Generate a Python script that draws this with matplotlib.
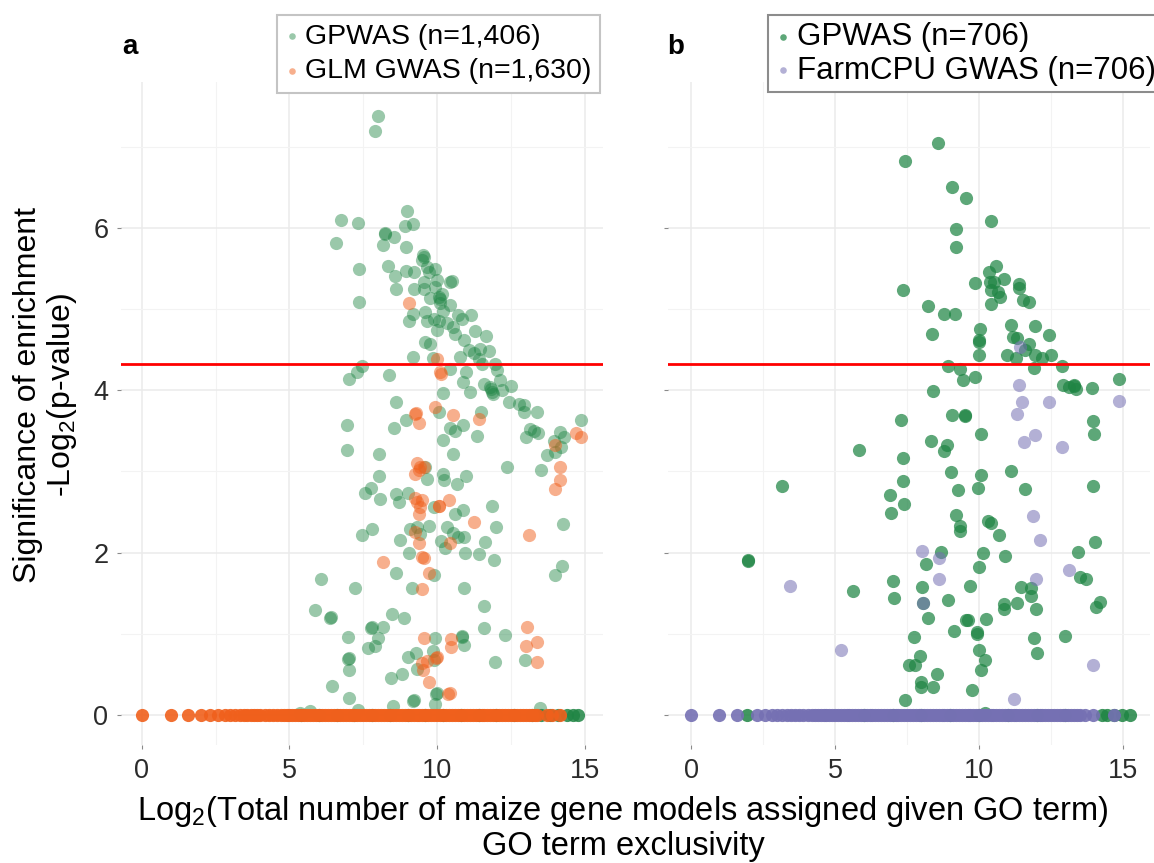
import numpy as np
import matplotlib
matplotlib.use("Agg")
import matplotlib.pyplot as plt

plt.rcParams['font.family'] = ['Liberation Sans', 'DejaVu Sans']
plt.rcParams['mathtext.fontset'] = 'custom'
plt.rcParams['mathtext.rm'] = 'Liberation Sans'
plt.rcParams['mathtext.it'] = 'Liberation Sans:italic'

# significance threshold, -log2(0.05)
threshold = 4.32

# ---- panel a: GPWAS vs GLM GWAS ----
gpwas_a_x = [7.99, 7.91, 8.97, 6.73, 7.33, 8.90, 9.19, 6.58, 8.23, 8.25, 8.54, 8.15, 8.93, 9.53, 9.54,
             9.47, 9.65, 9.93, 7.36, 8.32, 8.58, 8.95, 9.23, 9.71, 9.54, 9.56, 9.99, 10.44, 10.50, 8.59,
             9.23, 9.93, 10.16, 10.05, 9.76, 7.37, 10.10, 10.44, 9.19, 9.06, 9.59, 9.65, 9.88, 9.99, 10.05,
             10.33, 10.55, 10.61, 10.72, 10.84, 11.15, 10.89, 11.29, 11.65, 9.60, 9.74, 11.08, 11.23, 11.46,
             11.74, 9.19, 9.85, 10.78, 11.40, 11.51, 11.97, 12.02, 7.45, 7.30, 7.03, 8.38, 10.44, 10.97,
             10.86, 11.57, 11.80, 11.86, 12.14, 12.19, 12.51, 10.18, 11.12, 10.08, 10.20, 11.83, 11.90,
             12.42, 12.76, 12.93, 12.95, 13.36, 8.60, 8.95, 10.05, 11.49, 6.94, 8.55, 10.42, 10.61, 10.87,
             11.34, 10.21, 13.15, 13.26, 13.40, 13.01, 14.17, 14.28, 13.94, 14.20, 14.00, 13.72, 14.88,
             6.94, 8.03, 10.54, 12.35, 13.51, 9.59, 8.04, 9.65, 10.21, 10.24, 10.67, 10.97, 7.54, 7.75,
             8.07, 8.60, 8.72, 9.00, 9.88, 10.86, 10.61, 11.85, 12.00, 14.26, 9.08, 9.31, 9.71, 9.42, 10.33,
             10.55, 10.72, 10.89, 10.12, 10.25, 11.63, 7.46, 7.80, 8.75, 9.03, 10.95, 11.40, 11.93, 9.88,
             8.61, 14.23, 13.97, 6.08, 7.23, 9.14, 10.89, 5.85, 6.37, 6.39, 8.47, 8.86, 11.59, 11.59, 7.76,
             7.78, 8.17, 7.98, 7.91, 7.67, 6.97, 6.99, 7.00, 7.02, 9.91, 10.84, 10.85, 10.89, 12.28, 12.98,
             11.94, 9.00, 9.29, 9.85, 9.90, 9.31, 8.44, 8.82, 6.45, 9.99, 7.03, 9.22, 9.19, 9.96, 9.94,
             8.50, 5.69, 5.36, 7.33, 13.49]
gpwas_a_y = [7.38, 7.20, 6.21, 6.10, 6.06, 6.03, 6.05, 5.82, 5.94, 5.93, 5.89, 5.79, 5.77, 5.67, 5.64,
             5.60, 5.52, 5.49, 5.49, 5.53, 5.41, 5.47, 5.46, 5.46, 5.34, 5.25, 5.36, 5.34, 5.35, 5.25,
             5.25, 5.27, 5.19, 5.15, 5.14, 5.09, 5.07, 5.05, 4.94, 4.86, 4.96, 4.86, 4.88, 4.74, 4.86,
             4.83, 4.78, 4.70, 4.93, 4.88, 4.93, 4.62, 4.73, 4.67, 4.60, 4.57, 4.50, 4.46, 4.51,
             4.48, 4.41, 4.40, 4.41, 4.38, 4.33, 4.33, 4.25, 4.30, 4.22, 4.14, 4.19, 4.26, 4.22,
             4.10, 4.08, 4.04, 3.98, 4.13, 4.00, 4.05, 3.97, 3.98, 5.12, 4.98, 4.02, 3.95,
             3.85, 3.83, 3.82, 3.73, 3.73, 3.85, 3.64, 3.73, 3.73, 3.57, 3.54, 3.54, 3.50, 3.57,
             3.44, 3.39, 3.52, 3.50, 3.48, 3.43, 3.49, 3.43, 3.37, 3.30, 3.24, 3.20, 3.63,
             3.27, 3.21, 3.21, 3.06, 3.02, 3.05, 2.94, 2.91, 2.97, 2.89, 2.85, 2.94, 2.74, 2.80,
             2.66, 2.72, 2.63, 2.74, 2.56, 2.52, 2.48, 2.58, 2.32, 2.35, 2.29, 2.32, 2.33, 2.23, 2.32,
             2.24, 2.19, 2.19, 2.14, 2.06, 2.13, 2.22, 2.29, 2.15, 1.99, 2.00, 1.98, 1.91, 1.73,
             1.75, 1.83, 1.72, 1.68, 1.56, 1.57, 1.56, 1.29, 1.20, 1.21, 1.25, 1.20, 1.34, 1.07, 1.07,
             1.08, 1.09, 0.95, 0.85, 0.82, 0.96, 0.69, 0.70, 0.56, 0.95, 0.96, 0.97, 0.86, 0.98, 0.68,
             0.65, 0.71, 0.76, 0.79, 0.68, 0.57, 0.45, 0.51, 0.36, 0.27, 0.21, 0.19, 0.17, 0.26, 0.14,
             0.11, 0.05, 0.03, 0.06, 0.09]
gpwas_a_zero_x = [5.4, 6.0, 6.6, 7.2, 7.8, 8.4, 9.0, 9.6, 10.2, 10.8, 11.4, 12.0, 12.6, 13.2, 13.5,
                  13.8, 14.1, 14.38, 14.6, 14.78]

glm_x = [9.06, 9.99, 10.10, 10.12, 9.25, 9.28, 9.39, 9.93, 10.55, 11.42, 14.00, 14.68, 14.88, 14.17,
         14.17, 13.97, 9.31, 9.42, 9.37, 9.25, 9.54, 9.25, 9.33, 9.48, 9.42, 9.37, 10.41, 10.05, 10.07,
         11.26, 13.11, 9.25, 9.39, 10.44, 9.50, 9.54, 8.16, 9.71, 9.48, 9.54, 10.46, 10.46, 13.04, 13.00,
         13.38, 13.36, 9.97, 10.00, 9.48, 9.65, 9.51, 9.73, 10.38, 10.44]
glm_y = [5.07, 4.38, 4.22, 4.20, 3.71, 3.72, 3.60, 3.79, 3.70, 3.65, 3.33, 3.48, 3.43, 3.05,
         2.89, 2.78, 3.10, 3.06, 3.02, 2.97, 3.06, 2.67, 2.63, 2.65, 2.56, 2.48, 2.65, 2.57, 2.58,
         2.38, 2.22, 2.26, 2.12, 2.12, 1.95, 1.93, 1.88, 1.75, 1.55, 0.95, 0.94, 0.84, 1.09, 0.85,
         0.90, 0.65, 0.70, 0.71, 0.64, 0.66, 0.55, 0.41, 0.26, 0.27]
glm_zero_x = [0, 1, 1.58, 2, 2.32, 2.58, 2.81, 3.0, 3.17, 3.32, 3.46, 3.58, 3.70, 3.81, 3.91, 4.0,
              4.17, 4.32, 4.46, 4.58, 4.70, 4.81, 4.91, 5.0, 5.1, 5.2, 5.3, 5.4, 5.5, 5.6, 5.7, 5.8,
              5.9, 6.0, 6.1, 6.2, 6.3, 6.4, 6.5, 6.6, 6.7, 6.8, 6.9, 7.0, 7.1, 7.2, 7.3, 7.4, 7.5,
              7.6, 7.7, 7.8, 7.9, 8.0, 8.1, 8.2, 8.3, 8.4, 8.5, 8.6, 8.7, 8.8, 8.9, 9.0, 9.1, 9.2,
              9.3, 9.4, 9.5, 9.6, 9.7, 9.8, 9.9, 10.0, 10.1, 10.2, 10.3, 10.4, 10.5, 10.6, 10.7,
              10.8, 10.9, 11.0, 11.1, 11.2, 11.3, 11.4, 11.5, 11.6, 11.7, 11.8, 11.9, 12.0, 12.1,
              12.2, 12.3, 12.4, 12.5, 12.6, 12.7, 12.8, 12.9, 13.0, 13.1, 13.2, 13.3, 13.37, 13.7,
              13.9, 14.15]

# ---- panel b: GPWAS vs FarmCPU GWAS ----
gpwas_b_x = [8.58, 7.44, 9.07, 9.54, 10.41, 9.19, 9.20, 10.58, 10.34, 10.88, 10.38, 10.52, 10.43, 10.65,
             10.73, 10.42, 9.86, 7.37, 11.40, 11.40, 11.52, 11.72, 8.22, 8.80, 9.17, 10.05, 11.10, 11.96,
             12.43, 8.37, 9.99, 9.99, 11.19, 11.33, 11.75, 11.60, 10.01, 10.96, 11.28, 11.94, 12.18, 12.50,
             8.93, 9.34, 11.92, 12.87, 9.46, 9.86, 8.41, 12.93, 13.14, 13.28, 13.30, 13.37, 13.91, 14.86,
             9.05, 9.51, 9.52, 7.30, 13.95, 14.00, 10.08, 8.33, 8.90, 8.78, 5.83, 7.35, 9.02, 10.06, 11.10,
             7.37, 9.28, 9.98, 11.61, 3.16, 13.95, 6.91, 7.40, 6.93, 9.21, 9.34, 9.35, 10.32, 10.41, 10.68,
             14.03, 8.67, 10.15, 10.90, 10.01, 1.98, 1.99, 8.16, 13.45, 13.51, 13.72, 5.63, 7.02, 7.05,
             8.03, 8.06, 8.91, 9.69, 11.46, 11.80, 11.80, 11.33, 10.85, 10.85, 11.97, 14.20, 14.05, 8.22,
             9.55, 9.63, 10.24, 9.13, 9.92, 9.93, 12.97, 7.74, 11.92, 12.02, 7.95, 7.58, 7.78, 10.01,
             10.21, 10.06, 8.54, 7.97, 7.99, 8.41, 9.75, 7.43, 10.20]
gpwas_b_y = [7.05, 6.83, 6.51, 6.37, 6.08, 5.99, 5.76, 5.53, 5.46, 5.37, 5.34, 5.33, 5.23, 5.21,
             5.15, 5.06, 5.32, 5.23, 5.31, 5.26, 5.11, 5.09, 5.04, 4.94, 4.94, 4.75, 4.80, 4.79,
             4.68, 4.69, 4.62, 4.59, 4.66, 4.65, 4.57, 4.50, 4.43, 4.43, 4.40, 4.43, 4.40, 4.44,
             4.30, 4.26, 4.27, 4.30, 4.13, 4.16, 3.99, 4.06, 4.04, 4.05, 4.06, 4.02, 4.03, 4.14,
             3.70, 3.68, 3.69, 3.64, 3.62, 3.46, 3.46, 3.38, 3.33, 3.25, 3.27, 3.16, 2.99, 2.96, 3.01,
             2.88, 2.77, 2.80, 2.78, 2.82, 2.82, 2.71, 2.60, 2.49, 2.46, 2.33, 2.27, 2.39, 2.36, 2.22,
             2.13, 2.01, 1.99, 1.96, 1.82, 1.90, 1.91, 1.86, 2.01, 1.70, 1.67, 1.53, 1.65, 1.44,
             1.58, 1.38, 1.42, 1.59, 1.58, 1.56, 1.47, 1.38, 1.37, 1.31, 1.31, 1.39, 1.33, 1.19,
             1.17, 1.17, 1.18, 1.03, 1.02, 1.00, 0.97, 0.96, 0.95, 0.76, 0.73, 0.62, 0.61, 0.80,
             0.68, 0.56, 0.51, 0.41, 0.35, 0.35, 0.31, 0.18, 0.03]
gpwas_b_zero_x = [1.96, 6.0, 7.0, 8.0, 9.0, 10.0, 11.0, 12.0, 13.0, 14.26, 14.43, 14.69, 14.95, 15.24]

farmcpu_x = [11.42, 11.40, 11.48, 12.43, 11.32, 14.86, 11.94, 11.57, 12.87, 11.86, 12.10, 8.03, 8.60,
             13.11, 3.45, 8.61, 8.06, 11.97, 5.22, 13.95, 11.22]
farmcpu_y = [4.53, 4.06, 3.85, 3.85, 3.71, 3.87, 3.45, 3.36, 3.30, 2.45, 2.16, 2.02, 1.93,
             1.79, 1.59, 1.67, 1.38, 1.67, 0.80, 0.62, 0.20]
farmcpu_zero_x = [0, 0.98, 1.59, 2.28, 2.57, 2.8, 2.97, 3.15, 3.32, 3.46, 3.6, 3.75, 3.9, 4.05, 4.2,
                  4.3, 4.4, 4.5, 4.6, 4.7, 4.8, 4.9, 5.0, 5.1, 5.2, 5.3, 5.4, 5.5, 5.6, 5.7, 5.8, 5.9,
                  6.0, 6.1, 6.2, 6.3, 6.4, 6.5, 6.6, 6.7, 6.8, 6.9, 7.0, 7.1, 7.2, 7.3, 7.4, 7.5, 7.6,
                  7.7, 7.8, 7.9, 8.0, 8.1, 8.2, 8.3, 8.4, 8.5, 8.6, 8.7, 8.8, 8.9, 9.0, 9.1, 9.2, 9.3,
                  9.4, 9.5, 9.6, 9.7, 9.8, 9.9, 10.0, 10.1, 10.2, 10.3, 10.4, 10.5, 10.6, 10.7, 10.8,
                  10.9, 11.0, 11.1, 11.2, 11.3, 11.4, 11.5, 11.6, 11.7, 11.8, 11.9, 12.0, 12.1, 12.2,
                  12.3, 12.4, 12.5, 12.6, 12.7, 12.8, 12.9, 13.0, 13.1, 13.2, 13.3, 13.4, 13.5, 13.68,
                  13.97, 14.69]

green = '#1f8544'
orange = '#f0601c'
purple = '#7570b3'
pt = 90

fig = plt.figure(figsize=(11.54, 8.63), dpi=100)
W, H = 1154.0, 863.0
ylim = (-0.37, 7.8)
bottom_px, top_px = 745.0, 81.9

ax_a = fig.add_axes([121.0 / W, 1 - bottom_px / H, 482.3 / W, (bottom_px - top_px) / H])
ax_b = fig.add_axes([668.3 / W, 1 - bottom_px / H, 482.1 / W, (bottom_px - top_px) / H])


def style_axes(ax, xlim, show_ylabels):
    ax.set_xlim(*xlim)
    ax.set_ylim(*ylim)
    for s in ax.spines.values():
        s.set_visible(False)
    ax.set_xticks([0, 5, 10, 15])
    ax.set_yticks([0, 2, 4, 6])
    ax.set_xticks([2.5, 7.5, 12.5], minor=True)
    ax.set_yticks([1, 3, 5, 7], minor=True)
    ax.grid(True, which='major', color='#ebebeb', lw=1.1, zorder=0)
    ax.grid(True, which='minor', color='#f3f3f3', lw=0.8, zorder=0)
    ax.set_axisbelow(True)
    ax.tick_params(which='major', length=3, width=0.8, color='#8a8a8a',
                   labelsize=19.5, labelcolor='#2b2b2b', pad=6)
    ax.tick_params(which='minor', length=0)
    if not show_ylabels:
        ax.tick_params(axis='y', labelleft=False)


style_axes(ax_a, (-0.70, 15.62), True)
style_axes(ax_b, (-0.79, 15.95), False)

# panel a
ax_a.scatter(gpwas_a_x, gpwas_a_y, s=pt, color=green, alpha=0.45, lw=0, zorder=3,
             label='GPWAS (n=1,406)')
ax_a.scatter(gpwas_a_zero_x, np.zeros(len(gpwas_a_zero_x)), s=pt, color=green, alpha=0.85, lw=0, zorder=3)
ax_a.scatter(glm_x, glm_y, s=pt, color=orange, alpha=0.5, lw=0, zorder=4,
             label='GLM GWAS (n=1,630)')
ax_a.scatter(glm_zero_x, np.zeros(len(glm_zero_x)), s=pt, color=orange, alpha=0.9, lw=0, zorder=4)
ax_a.axhline(threshold, color='#ff0000', lw=2.0, zorder=5)

# panel b
ax_b.scatter(gpwas_b_x, gpwas_b_y, s=pt, color=green, alpha=0.72, lw=0, zorder=3,
             label='GPWAS (n=706)')
ax_b.scatter(gpwas_b_zero_x, np.zeros(len(gpwas_b_zero_x)), s=pt, color=green, alpha=0.85, lw=0, zorder=3)
ax_b.scatter(farmcpu_x, farmcpu_y, s=pt, color=purple, alpha=0.55, lw=0, zorder=4,
             label='FarmCPU GWAS (n=706)')
ax_b.scatter(farmcpu_zero_x, np.zeros(len(farmcpu_zero_x)), s=pt, color=purple, alpha=0.9, lw=0, zorder=4)
ax_b.axhline(threshold, color='#ff0000', lw=2.0, zorder=5)

leg_kw = dict(markerscale=0.5, handlelength=0.5, handletextpad=0.2,
              labelspacing=0.3, borderpad=0.3, borderaxespad=0, fancybox=False,
              framealpha=1, bbox_transform=fig.transFigure)
leg_a = ax_a.legend(loc='upper right', bbox_to_anchor=(600 / W, 1 - 15 / H), fontsize=20.5, **leg_kw)
leg_a.get_frame().set_edgecolor('#c4c4c4')
leg_a.get_frame().set_linewidth(1.5)
leg_b = ax_b.legend(loc='upper left', bbox_to_anchor=(768 / W, 1 - 15 / H), fontsize=22.5,
                    **dict(leg_kw, labelspacing=0.12, borderpad=0.22))
leg_b.get_frame().set_edgecolor('#8c8c8c')
leg_b.get_frame().set_linewidth(1.5)

fig.text(130 / W, 1 - 47 / H, 'a', fontsize=20, fontweight='bold', ha='center', va='center')
fig.text(676 / W, 1 - 47 / H, 'b', fontsize=20, fontweight='bold', ha='center', va='center')

fig.text(46 / W, 1 - 395 / H, 'Significance of enrichment\n-Log$_2$(p-value)', rotation=90,
         fontsize=23, ha='center', va='center', multialignment='center', linespacing=1.1)
fig.text(623 / W, 1 - 828 / H,
         'Log$_2$(Total number of maize gene models assigned given GO term)\nGO term exclusivity',
         fontsize=23.5, ha='center', va='center', multialignment='center', linespacing=1.05)

fig.savefig('out.png', dpi=100)
